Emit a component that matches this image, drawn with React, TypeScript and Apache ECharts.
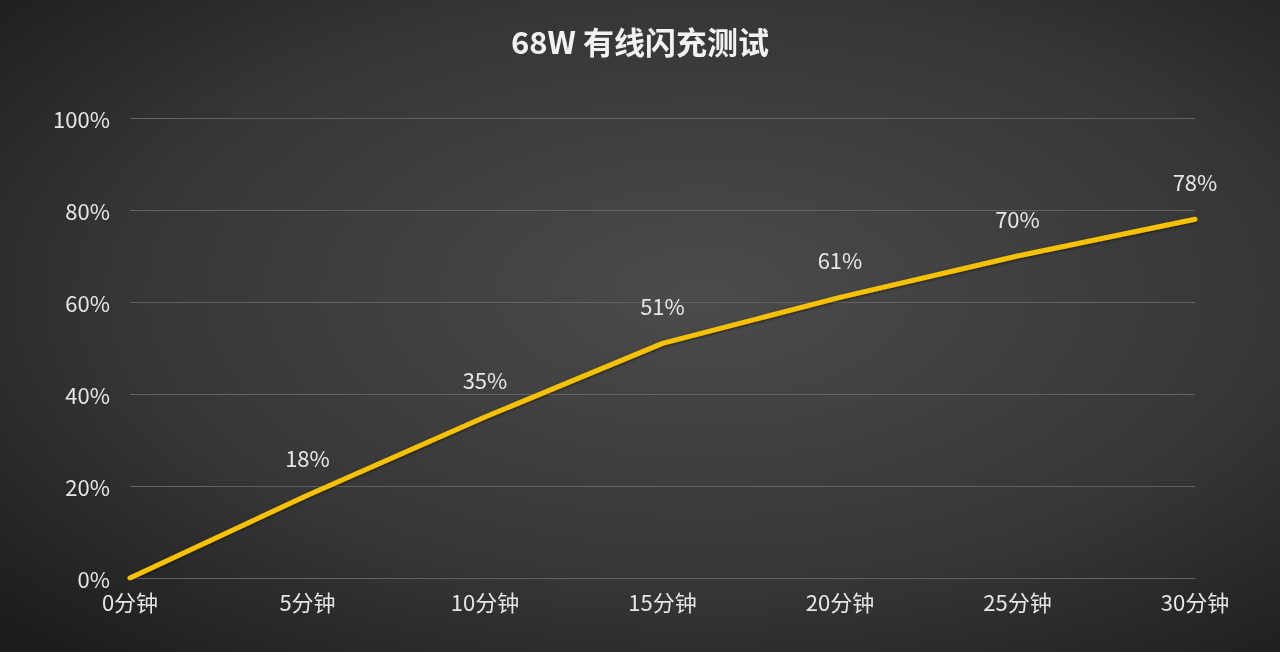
import { useEffect, useRef } from "react";
import * as echarts from "echarts";

const title = "68W 有线闪充测试";
const minutes = ["0分钟", "5分钟", "10分钟", "15分钟", "20分钟", "25分钟", "30分钟"];
const charge = [0, 18, 35, 51, 61, 70, 78];
const pointLabels = ["", "18%", "35%", "51%", "61%", "70%", "78%"];

const font = "'Noto Sans CJK SC', 'Open Sans', sans-serif";

export default function App() {
  const chartRef = useRef<HTMLDivElement>(null);

  useEffect(() => {
    if (!chartRef.current) return;
    const chart = echarts.init(chartRef.current, null, { renderer: "svg" });

    chart.setOption({
      animation: false,
      backgroundColor: {
        type: "radial",
        x: 0.55,
        y: 0.45,
        r: 0.75,
        colorStops: [
          { offset: 0, color: "#4b4b4b" },
          { offset: 0.6, color: "#363636" },
          { offset: 1, color: "#1c1c1c" },
        ],
      },
      title: {
        text: title,
        left: "center",
        top: 20,
        textStyle: {
          color: "#f2f2f2",
          fontSize: 31,
          fontWeight: "bold",
          fontFamily: font,
        },
      },
      grid: {
        left: 130,
        right: 85,
        top: 118,
        bottom: 74,
      },
      xAxis: {
        type: "category",
        data: minutes,
        boundaryGap: false,
        axisLine: { lineStyle: { color: "#626262", width: 1 } },
        axisTick: { show: false },
        axisLabel: {
          color: "#e6e6e6",
          fontSize: 22,
          fontFamily: font,
          margin: 12,
        },
      },
      yAxis: {
        type: "value",
        min: 0,
        max: 100,
        interval: 20,
        axisLine: { show: false },
        axisTick: { show: false },
        splitLine: { lineStyle: { color: "#626262", width: 1 } },
        axisLabel: {
          color: "#e6e6e6",
          fontSize: 22,
          fontFamily: font,
          margin: 20,
          formatter: "{value}%",
        },
      },
      series: [
        {
          type: "line",
          data: charge,
          symbol: "circle",
          symbolSize: 4,
          showSymbol: true,
          itemStyle: { color: "#f5c100", borderWidth: 0 },
          lineStyle: {
            color: "#f5c100",
            width: 5,
            cap: "round",
            shadowColor: "rgba(0,0,0,0.6)",
            shadowBlur: 3,
            shadowOffsetY: 1,
          },
          label: {
            show: true,
            position: "top",
            distance: 25,
            color: "#e6e6e6",
            fontSize: 22,
            fontFamily: font,
            formatter: (p: { dataIndex: number }) => pointLabels[p.dataIndex],
          },
        },
      ],
    });

    return () => {
      chart.dispose();
    };
  }, []);

  return (
    <div
      ref={chartRef}
      style={{ position: "fixed", left: 0, top: 0, width: 1280, height: 652 }}
    />
  );
}
